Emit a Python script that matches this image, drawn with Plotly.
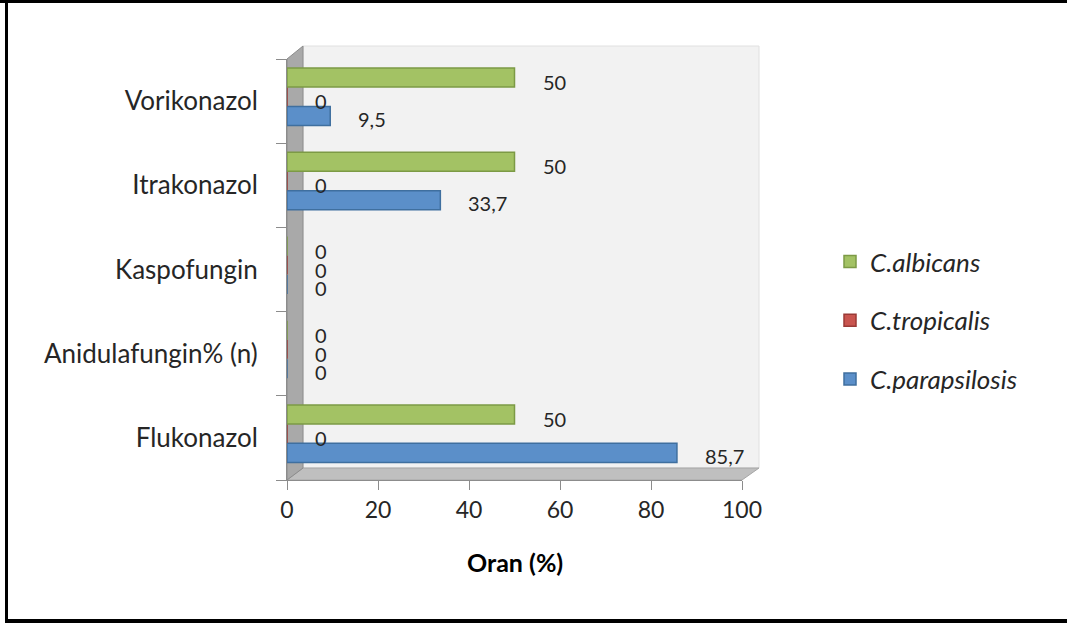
import plotly.graph_objects as go

# ---- data ----
categories = ["Flukonazol", "Anidulafungin% (n)", "Kaspofungin", "Itrakonazol", "Vorikonazol"]
c_parapsilosis = [85.7, 0, 0, 33.7, 9.5]
c_tropicalis = [0, 0, 0, 0, 0]
c_albicans = [50, 0, 0, 50, 50]
series_names = ["C.parapsilosis", "C.tropicalis", "C.albicans"]
x_ticks = [0, 20, 40, 60, 80, 100]
x_title = "Oran (%)"

W, H = 1067, 623
L, R_px, T, B = 287, 742, 59, 480
PW, PH = R_px - L, B - T


def px(x):
    return (x - L) / PW


def py(y):
    return (B - y) / PH


FONT = "Lato"
TXT = "#262626"
colors = ["#5b8fc9", "#c9554f", "#a3c264"]
edges = ["#3f6f9f", "#9a3a36", "#7c9a45"]
offsets = [-0.291, -0.06, 0.166]
label_yshift = [-18, 0, 19]
legend_rank = [3, 2, 1]
bar_w = 0.226

fig = go.Figure()
all_series = [c_parapsilosis, c_tropicalis, c_albicans]
for i, (name, vals) in enumerate(zip(series_names, all_series)):
    fig.add_trace(go.Bar(
        y=categories, x=vals, orientation="h", name=name,
        marker=dict(color=colors[i], line=dict(color=edges[i], width=1.5)),
        width=bar_w, offset=offsets[i], legendgroup=name, legendrank=legend_rank[i],
        hoverinfo="x+y",
    ))

annotations = []
for i, vals in enumerate(all_series):
    for cat, v in zip(categories, vals):
        annotations.append(dict(
            x=v, y=cat, xref="x", yref="y", text=f"{v:g}".replace(".", ","),
            showarrow=False, xanchor="left", yanchor="middle",
            xshift=26, yshift=label_yshift[i],
            font=dict(family=FONT, size=20, color=TXT),
        ))

annotations.append(dict(
    x=0.5, y=py(562), xref="paper", yref="paper", text=f"<b>{x_title}</b>",
    showarrow=False, xanchor="center", yanchor="middle",
    font=dict(family=FONT, size=25, color="#000000"),
))

shapes = [
    # back wall
    dict(type="path", xref="paper", yref="paper", layer="below",
         path=f"M {px(303)},{py(468)} L {px(303)},{py(46)} L {px(759)},{py(46)} L {px(759)},{py(468)} Z",
         fillcolor="#f2f2f2", line=dict(color="#e0e0e0", width=1)),
    # floor
    dict(type="path", xref="paper", yref="paper", layer="below",
         path=f"M {px(287)},{py(480)} L {px(303)},{py(468)} L {px(759)},{py(468)} L {px(742)},{py(480)} Z",
         fillcolor="#bfbfbf", line=dict(color="#a6a6a6", width=1)),
    # left wall
    dict(type="path", xref="paper", yref="paper", layer="below",
         path=f"M {px(287)},{py(480)} L {px(287)},{py(59)} L {px(303)},{py(46)} L {px(303)},{py(468)} Z",
         fillcolor="#a9a9a9", line=dict(color="#8c8c8c", width=1)),
    # outer frame (top, left, bottom)
    dict(type="rect", xref="paper", yref="paper", layer="above",
         x0=px(0), x1=px(1067), y0=py(3), y1=py(0), fillcolor="#000000", line=dict(width=0)),
    dict(type="rect", xref="paper", yref="paper", layer="above",
         x0=px(5), x1=px(8), y0=py(623), y1=py(0), fillcolor="#000000", line=dict(width=0)),
    dict(type="rect", xref="paper", yref="paper", layer="above",
         x0=px(5), x1=px(1067), y0=py(623), y1=py(619), fillcolor="#000000", line=dict(width=0)),
]

fig.update_layout(
    width=W, height=H,
    margin=dict(l=L, r=W - R_px, t=T, b=H - B, pad=0),
    paper_bgcolor="white", plot_bgcolor="rgba(0,0,0,0)",
    barmode="overlay",
    font=dict(family=FONT, size=20, color=TXT),
    xaxis=dict(range=[0, 100], tickvals=x_ticks, showgrid=False, zeroline=False,
               showline=True, linecolor="#8c8c8c", linewidth=1,
               ticks="outside", ticklen=9, tickcolor="#8c8c8c",
               tickfont=dict(family=FONT, size=23, color=TXT), fixedrange=True),
    yaxis=dict(type="category", categoryorder="array", categoryarray=categories,
               range=[-0.5, len(categories) - 0.5],
               showgrid=False, zeroline=False, showline=True, linecolor="#8c8c8c",
               ticks="outside", ticklen=10, tickcolor="#8c8c8c", tickson="boundaries",
               ticklabelstandoff=23,
               tickfont=dict(family=FONT, size=26, color=TXT), fixedrange=True),
    legend=dict(x=px(830), y=py(238), xanchor="left", yanchor="top",
                traceorder="grouped", tracegroupgap=22,
                font=dict(family=FONT, size=26, color=TXT, style="italic"),
                bgcolor="rgba(0,0,0,0)", itemwidth=30),
    annotations=annotations,
    shapes=shapes,
    separators=",.",
)

fig.write_html("out.html")
